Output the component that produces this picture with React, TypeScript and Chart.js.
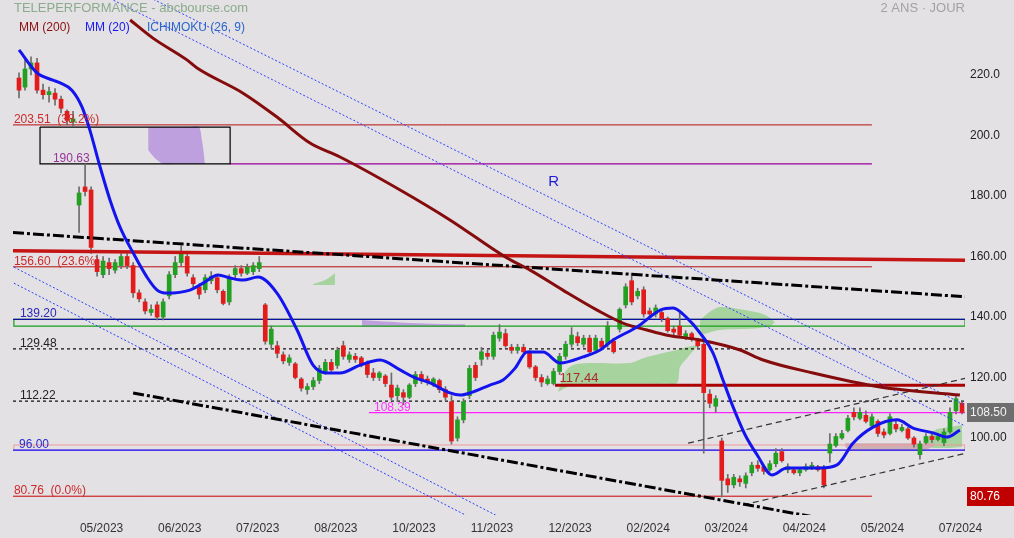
import React, { useEffect, useRef } from "react";
import { Chart, registerables } from "chart.js";
Chart.register(...registerables);

const FONT = "'Liberation Sans', Arial, sans-serif";
const BG = "#e3e1e4";

// ---- axes ----
const X_MIN = 0;
const X_MAX = 317;
const X_TICK_IDX = [29.5, 55.5, 81.5, 107.5, 133.5, 159.5, 185.5, 211.5, 237.5, 263.5, 289.5, 315.5];
const X_TICK_LABELS = ["05/2023", "06/2023", "07/2023", "08/2023", "10/2023", "11/2023", "12/2023", "02/2024", "03/2024", "04/2024", "05/2024", "07/2024"];
const Y_MIN = 74.55;
const Y_MAX = 244.8;
const Y_TICKS = [100, 120, 140, 160, 180, 200, 220];
const Y_TICK_LABELS = ["100.00", "120.00", "140.00", "160.00", "180.00", "200.0", "220.0"];

// ---- candles (2-day bars) ----
const OPEN = [219,216,222,224,215,213.5,214,212,208,204.5, 177,183,182,159,154,158,155.5,157,160,157, 148,145,141.5,144,140,147,154,158,160,153, 150,149,152,153,148.5,145,154,156,154.5,155, 156,144,131,130.5,127.5,125,124.5,119.5,116,117, 119,122,125,124,130.5,126,127,126.5,125,121.5, 120,120.5,117.5,114,115,113.5,118,121,119.5,118, 119,116,112,100,106,114,124,126,128,127, 133,134.5,130,129,130,128,123.5,120,118,118, 122,127,131,133.5,131,133,129,132,131,132, 136,144,152,147,149,142,141,141.5,139.5,136, 137,133.5,134.5,132.5,131,114.5,110.5,99,86.5,84.5, 86.5,85,88.5,91,90.5,89.5,91.5,95.5,89.5,89.5, 88.5,89.5,90,90.5,90,95,97.5,100,102.5,108.5, 106.5,107.5,104,105.5,102,101.5,104.5,102.5,103,100, 94.5,98.5,100.5,99.5,98.5,102,109,111.5];
const HIGH = [220.7,225,226,225.5,217,216,215.5,213,208.5,208, 183,190.6,183,160.5,160,159.5,159,161,161,158, 149,146,144,145,146,155,160,163.5,161,154, 151,154,155,154,149,154,157,157,157.5,158, 160,144.5,137,132,128.5,127.5,125,120,118,120, 124,126,126,130,132,128.5,128,127,125.5,123, 122,121,121.5,117.5,116,118,122,122,120.5,120, 119.5,117,114,107,113,124,125,130,129,135, 137.5,136,131,131,131,129,124,121,120.5,123, 128,132,136.5,135,134,134,134,133,138.5,133, 143,151,154.5,149.5,150,143,144,142,140,137, 141.3,135.5,135,133,132,116,114,100,88,88, 87.5,88.5,92,92.5,91,92.5,96.5,96.5,91.5,90, 90,91.5,92,91,91,101.5,101.5,102.5,107.5,110, 110,109,108,106,103,108,106,104.5,103.5,100.5, 99,101.5,101.5,101.5,103,110,114,112];
const LOW = [212.4,215,220,214,212,211,210,207.5,203.5,203, 168,180,161,153.5,153,154,154.5,156,156,146.5, 145,141,140.5,139,139,146,153,157,153.5,150, 146,148,151,148,144,144,153,153.5,154,154, 155,131,129.5,126.5,124.5,124,119.5,115.5,114.5,116, 118,121,122,123,126,125,125,123.5,120,119, 119,117,112.5,112,111,113,117,118,117.5,117, 115,112.5,98,99,105,113,119,124,126,126, 132,130,128,128,128,123,119,117,117.5,117.5, 121,126,130,130.5,130,128,128,129,130,128, 135,143,144,146,140,140,140,138.5,135,134, 133.5,132.5,132,129.5,95,110,108.5,80.5,82,83.5, 84,83.5,87.5,89,88,89,90.5,92,88.5,88, 87.5,89,89.5,89,83.5,92,97,99.5,102,106, 106,105,103.5,100.5,100,101,102,102,99.5,97, 93,98,98.5,99,97.5,101.5,108,108];
const CLOSE = [215,222,224,215,213.5,214.5,212,209,205,205.5, 181,181.5,163,155,158.5,156,158,160,157,148, 146,142,142.5,140,145,154,158,161,154.5,151, 147.5,153,153.5,149,144.5,153,156,154.5,156.5,157, 158,132,136,128,125.5,126.5,120,116.5,117,119, 123,125,122.5,129,127,127.5,126,124.5,121,120, 121.5,118,113.5,116.5,113.5,117.5,121,119,118.5,119.5, 116,113.5,99,106,112,123,120,128.5,127,134, 135,130.5,129,130,128.5,123.5,120,118.5,119.5,122, 127,131,134,131.5,133,128.5,133,130,137,128.5, 142.5,150,145,148.5,141,141,143,139.5,135.5,135, 134,134.5,133,130.5,115,111.5,113,86,84.5,87, 85.5,87.5,91,90,89,91.5,95,92.5,90.5,88.5, 89.5,90.5,91,89.5,84.5,98,100.5,101.5,106.5,107, 108.5,105.5,107,101.5,101,107,103,103.5,100,98, 98,100.5,99.5,100.5,102,108.5,113,108.5];

// ---- moving averages ----
const MM20_X = [2.0,8.0,13.3,15.7,19.6,23.0,25.6,29.0,32.3,35.6,40.0,44.6,48.0,51.3,58.9,63.3,68.3,72.3,76.6,81.6,87.9,94.6,99.9,104.6,108.9,115.6,122.2,128.9,133.2,138.9,145.5,148.9,152.2,158.8,163.2,167.2,171.2,176.5,182.2,189.8,195.5,199.8,207.8,215.5,219.8,224.4,228.8,233.1,236.4,239.8,243.8,247.8,252.7,257.7,268.7,274.4,279.7,286.4,294.4,299.7,306.4,311.0,315.3];
const MM20_Y = [228.3,220.7,218.3,217.4,215.0,209.4,201.8,189.6,178.7,169.8,161.2,153.2,148.9,147.9,148.9,151.2,153.9,152.9,152.2,153.2,147.9,135.7,124.1,121.5,121.5,124.1,125.8,122.5,120.2,118.2,114.9,114.2,114.9,117.5,119.2,123.1,128.4,128.4,124.8,126.8,129.1,132.4,136.7,142.3,143.0,139.7,134.7,128.1,119.2,110.2,101.0,94.4,87.8,90.1,90.1,91.1,98.3,103.6,106.0,103.3,101.7,100.3,102.6];
const MM200_X = [39.0,46.6,57.9,61.3,76.6,87.9,98.9,108.9,128.9,145.5,164.5,172.2,183.1,194.5,203.1,211.1,217.8,228.8,242.1,249.8,266.4,288.7,315.3];
const MM200_Y = [238.2,232.2,225.0,222.3,214.0,206.1,197.5,192.9,182.0,172.1,159.5,155.5,148.9,142.3,138.0,135.7,134.0,132.4,129.1,125.8,121.5,116.9,114.2];

// ---- horizontal levels ----
const LEVEL_PRICES = [203.51, 190.63, 156.60, 139.20, 129.48, 117.44, 112.22, 108.39, 96.00, 80.76];
const LEVEL_TEXTS = ["203.51  (38.2%)", "190.63", "156.60  (23.6%)", "139.20", "129.48", "117.44", "112.22", "108.39", "96.00", "80.76  (0.0%)"];
const LEVEL_FROM = [0, 72.3, 0, 0, 0, 180.5, 0, 118.5, 0, 0];
const LEVEL_TO = [286, 286, 286, 317, 317, 317, 317, 317, 317, 286];
const LEVEL_LABEL_X = [0.3, 13.3, 0.3, 2.3, 2.3, 182, 2.3, 120.2, 2.0, 0.3];
const LEVEL_STYLE = [
  { c: "#b81010", t: "#cc2a2a", w: 1, d: [] },
  { c: "#990099", t: "#993399", w: 1.2, d: [] },
  { c: "#b81010", t: "#cc2a2a", w: 1, d: [] },
  { c: "#1010a0", t: "#2a2ab8", w: 1.2, d: [] },
  { c: "#111111", t: "#222222", w: 1.2, d: [3, 3] },
  { c: "#aa0000", t: "#aa2a2a", w: 3, d: [] },
  { c: "#111111", t: "#222222", w: 1.2, d: [3, 3] },
  { c: "#ff22ff", t: "#ff33ff", w: 1.2, d: [] },
  { c: "#1010ff", t: "#2a2ad0", w: 1.2, d: [] },
  { c: "#cc0000", t: "#cc2a2a", w: 1, d: [] },
];

// ---- boxes [x1, x2, yTop, yBottom] ----
const BOX_BLACK = [9.0, 72.3, 202.8, 190.63];
const BOX_GREEN = [0.3, 317, 139.2, 137.0];
const BOX_PINK = [0.3, 317, 97.7, 96.0];

// ---- trend lines [x1, y1, x2, y2] ----
const RED_THICK = [0, 161.9, 317, 158.8];
const DASHDOT_UP = [0, 167.9, 317, 146.7];
const DASHDOT_LOW = [40, 114.9, 280, 71.5];
const DOT_U1 = [32.3, 245.3, 317, 104.0];
const DOT_U2 = [45.6, 245.6, 317, 110.9];
const DOT_L1 = [0.3, 156.5, 167.2, 71.2];
const DOT_L2 = [0.3, 151.2, 157.2, 71.2];
const DASH_D1 = [224.8, 98.3, 317, 119.7];
const DASH_D2 = [243.1, 77.9, 317, 94.9];

// ---- clouds (x, upper, lower) ----
const CLOUD_P1_X = [45.0, 46.3, 48.0, 50.0, 53.9, 58.9, 61.9, 62.9, 63.6, 63.9];
const CLOUD_P1_UP = [202.8, 202.8, 202.8, 202.8, 202.8, 202.8, 202.8, 198.5, 193.6, 190.7];
const CLOUD_P1_LO = [195.2, 193.6, 191.9, 190.6, 190.6, 190.6, 190.6, 190.6, 190.6, 190.6];
const CLOUD_G1_X = [99.9, 103.9, 107.2];
const CLOUD_G1_UP = [150.8, 152.2, 154.5];
const CLOUD_G1_LO = [150.6, 150.6, 150.6];
const CLOUD_P2_X = [116.2, 125.5, 132.2, 142.2, 150.5];
const CLOUD_P2_UP = [139.0, 138.4, 138.0, 137.7, 137.6];
const CLOUD_P2_LO = [136.8, 136.8, 136.8, 136.8, 136.8];
const CLOUD_G2_X = [181.5, 183.8, 186.5, 192.1, 205.5, 209.8, 216.5, 221.1, 222.1, 224.4, 227.8];
const CLOUD_G2_UP = [115.2, 121.8, 124.1, 124.8, 124.8, 126.4, 128.1, 129.1, 129.4, 130.1, 130.7];
const CLOUD_G2_LO = [115.2, 116.5, 117.5, 117.9, 117.9, 117.9, 117.9, 118.2, 123.5, 126.4, 130.4];
const CLOUD_G3_X = [228.8, 232.1, 235.4, 242.1, 248.7, 252.1, 253.7];
const CLOUD_G3_UP = [139.0, 141.7, 143.3, 142.6, 141.3, 139.7, 138.3];
const CLOUD_G3_LO = [134.0, 135.0, 135.7, 136.0, 136.4, 137.0, 138.3];
const CLOUD_R1_X = [277.1, 278.7, 295.4, 303.7, 307.0];
const CLOUD_R1_UP = [98.3, 98.3, 98.3, 98.3, 98.3];
const CLOUD_R1_LO = [97.0, 96.0, 95.7, 96.0, 97.7];
const CLOUD_G4_X = [303.7, 307.0, 312.0, 316.0];
const CLOUD_G4_UP = [99.3, 102.6, 103.6, 104.3];
const CLOUD_G4_LO = [97.0, 96.7, 96.7, 97.0];

const R_MARK = [178.2, 184.6];
const LAST_PRICE = 108.5;
const LOW_PRICE = 80.76;

const noPad = (s: any) => {
  s.paddingTop = 0;
  s.paddingBottom = 0;
  s.paddingLeft = 0;
  s.paddingRight = 0;
};

export default function App() {
  const ref = useRef<HTMLCanvasElement>(null);
  useEffect(() => {
    document.body.style.margin = "0";
    const canvas = ref.current!;
    const datasets: any[] = [];

    const addLine = (xs: number[], ys: number[], color: string, width: number, dash: number[], order: number, extra: any = {}) => {
      datasets.push({
        type: "line",
        data: xs.map((x, i) => ({ x, y: ys[i] })),
        borderColor: color,
        borderWidth: width,
        borderDash: dash,
        pointRadius: 0,
        fill: false,
        tension: 0,
        order,
        ...extra,
      });
    };
    const addSeg = (s: number[], color: string, width: number, dash: number[], order: number) =>
      addLine([s[0], s[2]], [s[1], s[3]], color, width, dash, order);
    const addBox = (b: number[], color: string, width: number, order: number) =>
      addLine([b[0], b[1], b[1], b[0], b[0]], [b[2], b[2], b[3], b[3], b[2]], color, width, [], order);
    const addCloud = (xs: number[], up: number[], lo: number[], color: string) => {
      datasets.push({ type: "line", data: xs.map((x, i) => ({ x, y: lo[i] })), borderColor: "transparent", borderWidth: 0, pointRadius: 0, fill: false, tension: 0.3, order: 100 });
      datasets.push({ type: "line", data: xs.map((x, i) => ({ x, y: up[i] })), borderColor: "transparent", borderWidth: 0, pointRadius: 0, fill: "-1", backgroundColor: color, tension: 0.3, order: 100 });
    };

    const PURPLE = "rgba(190,160,222,1)";
    const GREEN = "rgba(160,210,150,0.9)";
    addCloud(CLOUD_P1_X, CLOUD_P1_UP, CLOUD_P1_LO, PURPLE);
    addCloud(CLOUD_G1_X, CLOUD_G1_UP, CLOUD_G1_LO, GREEN);
    addCloud(CLOUD_P2_X, CLOUD_P2_UP, CLOUD_P2_LO, PURPLE);
    addCloud(CLOUD_G2_X, CLOUD_G2_UP, CLOUD_G2_LO, GREEN);
    addCloud(CLOUD_G3_X, CLOUD_G3_UP, CLOUD_G3_LO, GREEN);
    addCloud(CLOUD_R1_X, CLOUD_R1_UP, CLOUD_R1_LO, "rgba(205,175,180,1)");
    addCloud(CLOUD_G4_X, CLOUD_G4_UP, CLOUD_G4_LO, GREEN);

    // boxes
    addBox(BOX_PINK, "#f09a9a", 1, 90);
    addBox(BOX_GREEN, "#16a016", 1.2, 90);
    addBox(BOX_BLACK, "#000000", 1.2, 60);

    // levels
    LEVEL_PRICES.forEach((p, i) => {
      const s = LEVEL_STYLE[i];
      addLine([LEVEL_FROM[i], LEVEL_TO[i]], [p, p], s.c, s.w, s.d, 85);
    });

    // candles
    const CX = OPEN.map((_, i) => 2 + 2 * i);
    datasets.push({
      type: "bar",
      data: CX.map((x, i) => ({ x, y: [LOW[i], HIGH[i]] })),
      backgroundColor: "#6c6c6c",
      barThickness: 1,
      grouped: false,
      order: 50,
    });
    datasets.push({
      type: "bar",
      data: CX.map((x, i) => ({ x, y: [OPEN[i], CLOSE[i]] })),
      backgroundColor: CX.map((_, i) => (CLOSE[i] >= OPEN[i] ? "#22a022" : "#e31b1b")),
      barThickness: 4,
      minBarLength: 1,
      grouped: false,
      order: 49,
    });

    // trend lines
    addSeg(RED_THICK, "#c41414", 3.5, [], 45);
    addSeg(DASHDOT_UP, "#000000", 3, [11, 3, 3, 3], 40);
    addSeg(DASHDOT_LOW, "#000000", 3, [11, 3, 3, 3], 40);
    addSeg(DOT_U1, "#3040ff", 1, [2, 2], 40);
    addSeg(DOT_U2, "#3040ff", 1, [2, 2], 40);
    addSeg(DOT_L1, "#3040ff", 1, [2, 2], 40);
    addSeg(DOT_L2, "#3040ff", 1, [2, 2], 40);
    addSeg(DASH_D1, "#333333", 1.2, [6, 4], 40);
    addSeg(DASH_D2, "#333333", 1.2, [6, 4], 40);

    // moving averages
    addLine(MM200_X, MM200_Y, "#850c0c", 3, [], 30, { cubicInterpolationMode: "monotone" });
    addLine(MM20_X, MM20_Y, "#1414ee", 3, [], 20, { cubicInterpolationMode: "monotone" });

    const overlay = {
      id: "overlay",
      beforeDraw(chart: any) {
        const ctx = chart.ctx;
        ctx.save();
        ctx.fillStyle = BG;
        ctx.fillRect(0, 0, chart.width, chart.height);
        ctx.restore();
      },
      afterDatasetsDraw(chart: any) {
        const ctx = chart.ctx;
        const xs = chart.scales.x;
        const ys = chart.scales.y;
        ctx.save();
        ctx.textAlign = "left";
        ctx.textBaseline = "alphabetic";
        LEVEL_PRICES.forEach((p, i) => {
          ctx.fillStyle = LEVEL_STYLE[i].t;
          const x = xs.getPixelForValue(LEVEL_LABEL_X[i]);
          const y = ys.getPixelForValue(p);
          ctx.font = i === 5 ? `13px ${FONT}` : `12px ${FONT}`;
          ctx.fillText(LEVEL_TEXTS[i], x, y - (i === 5 ? 3 : 2));
        });
        ctx.font = `15px ${FONT}`;
        ctx.fillStyle = "#1c1cd0";
        ctx.textBaseline = "middle";
        ctx.fillText("R", xs.getPixelForValue(R_MARK[0]), ys.getPixelForValue(R_MARK[1]));
        ctx.restore();
      },
      afterDraw(chart: any) {
        const ctx = chart.ctx;
        const ys = chart.scales.y;
        const area = chart.chartArea;
        ctx.save();
        const badge = (price: number, text: string, bg: string, fg: string) => {
          const y = ys.getPixelForValue(price);
          ctx.fillStyle = bg;
          ctx.fillRect(area.right + 2, Math.round(y) - 9, chart.width - area.right - 2, 19);
          ctx.fillStyle = fg;
          ctx.font = `12px ${FONT}`;
          ctx.textAlign = "left";
          ctx.textBaseline = "middle";
          ctx.fillText(text, area.right + 5, Math.round(y) + 1);
        };
        badge(LAST_PRICE, LAST_PRICE.toFixed(2), "#6e6e6e", "#f4f4f4");
        badge(LOW_PRICE, LOW_PRICE.toFixed(2), "#c00000", "#ffffff");

        ctx.textBaseline = "middle";
        ctx.font = `13px ${FONT}`;
        ctx.textAlign = "left";
        ctx.fillStyle = "#8cab8c";
        ctx.fillText("TELEPERFORMANCE - abcbourse.com", 14, 8);
        ctx.textAlign = "right";
        ctx.fillStyle = "#a2a2a2";
        ctx.fillText("2 ANS · JOUR", area.right, 8);

        ctx.textAlign = "left";
        ctx.font = `12px ${FONT}`;
        ctx.fillStyle = "#8b0e0e";
        ctx.fillText("MM (200)", 19, 28);
        ctx.fillStyle = "#1818f0";
        ctx.fillText("MM (20)", 85, 28);
        ctx.fillStyle = "#2a66cc";
        ctx.fillText("ICHIMOKU (26, 9)", 147, 28);
        ctx.restore();
      },
    };

    const chart = new Chart(canvas, {
      type: "line",
      data: { datasets },
      options: {
        animation: false,
        responsive: false,
        devicePixelRatio: 1,
        layout: { padding: { left: 13, top: 0, right: 0, bottom: 0 } },
        plugins: { legend: { display: false }, tooltip: { enabled: false } },
        scales: {
          x: {
            type: "linear",
            min: X_MIN,
            max: X_MAX,
            offset: false,
            grid: { display: false, drawTicks: false },
            border: { display: false },
            ticks: {
              autoSkip: false,
              maxRotation: 0,
              padding: 6,
              color: "#333333",
              font: { size: 12, family: FONT },
              callback: (v: any) => {
                const k = X_TICK_IDX.indexOf(Number(v));
                return k >= 0 ? X_TICK_LABELS[k] : "";
              },
            },
            afterBuildTicks: (s: any) => {
              s.ticks = X_TICK_IDX.map((v) => ({ value: v }));
            },
            afterFit: (s: any) => {
              s.height = 23;
              noPad(s);
            },
          },
          y: {
            type: "linear",
            position: "right",
            min: Y_MIN,
            max: Y_MAX,
            grid: { display: false, drawTicks: false },
            border: { display: false },
            ticks: {
              padding: 5,
              color: "#222222",
              font: { size: 12, family: FONT },
              callback: (v: any) => {
                const k = Y_TICKS.indexOf(Number(v));
                return k >= 0 ? Y_TICK_LABELS[k] : "";
              },
            },
            afterBuildTicks: (s: any) => {
              s.ticks = Y_TICKS.map((v) => ({ value: v }));
            },
            afterFit: (s: any) => {
              s.width = 49;
              noPad(s);
            },
          },
        },
      } as any,
      plugins: [overlay],
    });
    return () => chart.destroy();
  }, []);

  return (
    <div style={{ width: 1014, height: 538 }}>
      <canvas ref={ref} width={1014} height={538} style={{ display: "block" }} />
    </div>
  );
}
